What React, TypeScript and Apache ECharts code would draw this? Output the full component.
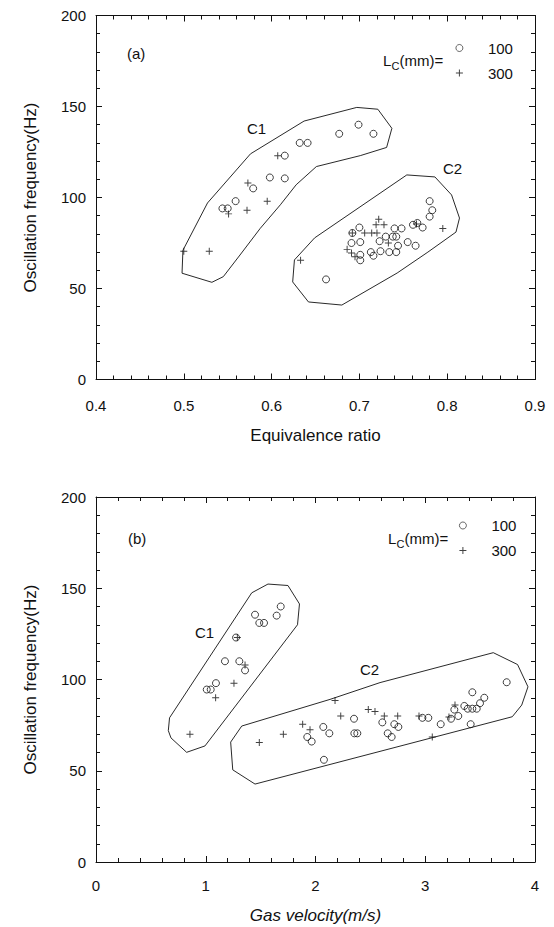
import React, { useEffect, useRef } from 'react';
import * as echarts from 'echarts';

// ---------- Data (a): oscillation frequency vs equivalence ratio ----------
const phiCircles: [number, number][] = [
  [0.544, 94], [0.55, 94], [0.559, 98], [0.579, 105], [0.598, 111], [0.615, 110.5],
  [0.615, 123], [0.632, 130], [0.641, 130], [0.677, 135], [0.699, 140], [0.716, 135],
  [0.662, 55], [0.78, 98], [0.783, 93], [0.78, 89.5], [0.772, 83.5], [0.766, 86],
  [0.761, 85], [0.764, 73.5], [0.755, 75.5], [0.748, 83], [0.74, 83], [0.744, 73.5],
  [0.742, 70], [0.734, 70], [0.742, 78.5], [0.738, 78.5], [0.73, 78.5], [0.723, 76],
  [0.724, 70.5], [0.716, 68], [0.713, 70], [0.701, 68.5], [0.701, 65.5], [0.701, 75.5],
  [0.691, 75], [0.692, 80.5], [0.7, 83.5],
];
const phiPluses: [number, number][] = [
  [0.5, 70.5], [0.529, 70.5], [0.551, 91], [0.572, 93], [0.573, 108], [0.595, 98], [0.607, 123],
  [0.633, 65.5], [0.686, 71.5], [0.691, 69.5], [0.695, 67.5], [0.692, 80.5], [0.706, 80.5],
  [0.714, 80.5], [0.72, 80.5], [0.722, 88], [0.719, 85], [0.728, 85], [0.733, 75],
  [0.795, 83], [0.765, 85.5],
];
const phiHullC1: [number, number][] = [
  [0.499, 71], [0.527, 97], [0.576, 124], [0.637, 142], [0.697, 149.5], [0.721, 148.5],
  [0.737, 138], [0.731, 127.5], [0.701, 123], [0.651, 117], [0.628, 107], [0.61, 96],
  [0.587, 83], [0.564, 68.4], [0.545, 56.5], [0.532, 53.4], [0.498, 58.4], [0.499, 71],
];
const phiHullC2: [number, number][] = [
  [0.626, 65.7], [0.649, 77.8], [0.754, 112.4], [0.786, 111.3], [0.805, 101.4], [0.814, 88.7],
  [0.81, 81], [0.778, 70], [0.743, 58.5], [0.68, 40.9], [0.642, 42.6], [0.624, 53.6], [0.626, 65.7],
];

// ---------- Data (b): oscillation frequency vs gas velocity ----------
const velCircles: [number, number][] = [
  [1.683, 140], [1.646, 135], [1.449, 135.5], [1.488, 131], [1.531, 131], [1.276, 123],
  [1.175, 110], [1.306, 110], [1.358, 105], [1.093, 98], [1.009, 94.5], [1.045, 94.5],
  [1.925, 68.5], [1.965, 66], [2.071, 74], [2.126, 70.5], [2.351, 78.5], [2.354, 70.5],
  [2.381, 70.5], [2.077, 56], [2.609, 76.5], [2.658, 70.5], [2.694, 68.5], [2.718, 75.5],
  [2.755, 74], [2.974, 79], [3.028, 79], [3.141, 75.5], [3.235, 78.5], [3.265, 83.5],
  [3.301, 80], [3.356, 85.5], [3.387, 84], [3.429, 84], [3.469, 84], [3.429, 93],
  [3.414, 75.5], [3.499, 87], [3.538, 90], [3.742, 98.5],
];
const velPluses: [number, number][] = [
  [1.288, 123], [1.358, 108], [1.257, 98], [1.09, 90], [0.856, 70],
  [1.488, 65.5], [1.707, 70], [1.883, 75.5], [1.95, 72.5], [2.178, 88.5], [2.23, 80],
  [2.481, 83.5], [2.542, 82.5], [2.627, 80], [2.749, 80], [2.943, 80], [3.064, 68.5],
  [3.271, 86], [3.216, 79.5],
];
const velHullC1: [number, number][] = [
  [0.67, 79], [1.419, 147.5], [1.567, 152.3], [1.749, 151.5], [1.854, 141.4], [1.836, 130],
  [0.993, 63.6], [0.826, 60.1], [0.683, 68], [0.659, 72], [0.67, 79],
];
const velHullC2: [number, number][] = [
  [1.328, 74.5], [2.132, 89.1], [2.588, 98.3], [3.62, 114.7], [3.841, 108.2], [3.936, 96],
  [3.879, 86], [3.793, 79.6], [1.449, 42.7], [1.246, 50.5], [1.227, 65.7], [1.328, 74.5],
];

// ---------- Tick labels ----------
const phiTickLabels = ['0.4', '0.5', '0.6', '0.7', '0.8', '0.9'];
const velTickLabels = ['0', '1', '2', '3', '4'];
const freqTickLabels = ['0', '50', '100', '150', '200'];
const seriesNames = ['100', '300'];

const FONT = '"Liberation Sans", Arial, Helvetica, sans-serif';
const INK = '#111';
const PLUS = 'path://M0,4.3H10V5.7H0Z M4.3,0H5.7V10H4.3Z';

function frameAxes(kind: 'x' | 'y', grid: number, min: number, max: number, interval: number,
  labels: string[] | null, position: string, name?: string, nameGap?: number, italic?: boolean) {
  return {
    type: 'value',
    gridIndex: grid,
    position,
    min, max, interval,
    axisLine: { show: true, onZero: false, lineStyle: { color: INK, width: 1 } },
    axisTick: { show: true, inside: true, length: 6, lineStyle: { color: INK, width: 1 } },
    minorTick: { show: true, splitNumber: 5, length: 4, lineStyle: { color: INK, width: 1 } },
    splitLine: { show: false },
    minorSplitLine: { show: false },
    axisLabel: labels ? {
      show: true,
      margin: kind === 'x' ? (grid === 0 ? 18 : 16) : 10,
      color: INK, fontSize: 15, fontFamily: FONT,
      formatter: (v: number) => labels[Math.round((v - min) / interval)] ?? '',
    } : { show: false },
    name: name ?? '',
    nameLocation: 'middle',
    nameGap: nameGap ?? 0,
    nameTextStyle: { color: INK, fontSize: 17, fontFamily: FONT, fontStyle: italic ? 'italic' : 'normal' },
  };
}

function scatter(name: string, data: [number, number][], idx: number, circle: boolean) {
  return {
    type: 'scatter', name, data, xAxisIndex: idx * 2, yAxisIndex: idx * 2,
    symbol: circle ? 'circle' : PLUS,
    symbolSize: 7,
    itemStyle: circle
      ? { color: 'rgba(0,0,0,0)', borderColor: INK, borderWidth: 1 }
      : { color: INK, borderWidth: 0 },
    z: 3,
  };
}

function hull(data: [number, number][], idx: number) {
  return {
    type: 'line', data, xAxisIndex: idx * 2, yAxisIndex: idx * 2,
    symbol: 'none', silent: true,
    lineStyle: { color: INK, width: 0.9 },
    z: 2,
  };
}

function txt(text: string, x: number, y: number, size = 15) {
  return {
    type: 'text', x, y, silent: true,
    style: { text, fill: INK, fontSize: size, fontFamily: FONT, align: 'left', verticalAlign: 'middle' },
  };
}

function lc(x: number, y: number) {
  return [txt('L', x, y, 15), txt('C', x + 8.6, y + 6, 11), txt('(mm)=', x + 16.5, y, 15)];
}

function legend(left: number, top: number) {
  return {
    data: [
      { name: seriesNames[0], icon: 'circle', itemStyle: { color: 'rgba(0,0,0,0)', borderColor: INK, borderWidth: 0.8 } },
      { name: seriesNames[1], icon: PLUS, itemStyle: { color: INK, borderWidth: 0 } },
    ],
    orient: 'vertical',
    left, top,
    itemWidth: 7, itemHeight: 7,
    itemGap: 10,
    padding: 0,
    selectedMode: false,
    textStyle: { color: INK, fontSize: 15, fontFamily: FONT, padding: [0, 0, 0, 20] },
  };
}

export default function App() {
  const ref = useRef<HTMLDivElement>(null);
  useEffect(() => {
    if (!ref.current) return;
    const chart = echarts.init(ref.current, null, { renderer: 'svg' });
    chart.setOption({
      animation: false,
      backgroundColor: '#fff',
      textStyle: { fontFamily: FONT },
      grid: [
        { left: 96, top: 15.5, width: 439, height: 364 },
        { left: 96, top: 497, width: 439, height: 365 },
      ],
      xAxis: [
        frameAxes('x', 0, 0.4, 0.9, 0.1, phiTickLabels, 'bottom', 'Equivalence ratio', 47),
        frameAxes('x', 0, 0.4, 0.9, 0.1, null, 'top'),
        frameAxes('x', 1, 0, 4, 1, velTickLabels, 'bottom', 'Gas velocity(m/s)', 45, true),
        frameAxes('x', 1, 0, 4, 1, null, 'top'),
      ],
      yAxis: [
        frameAxes('y', 0, 0, 200, 50, freqTickLabels, 'left', 'Oscillation frequency(Hz)', 57),
        frameAxes('y', 0, 0, 200, 50, null, 'right'),
        frameAxes('y', 1, 0, 200, 50, freqTickLabels, 'left', 'Oscillation frequency(Hz)', 57),
        frameAxes('y', 1, 0, 200, 50, null, 'right'),
      ],
      legend: [legend(455.5, 40.5), legend(459, 518)],
      series: [
        scatter('100', phiCircles, 0, true),
        scatter('300', phiPluses, 0, false),
        hull(phiHullC1, 0),
        hull(phiHullC2, 0),
        scatter('100', velCircles, 1, true),
        scatter('300', velPluses, 1, false),
        hull(velHullC1, 1),
        hull(velHullC2, 1),
      ],
      graphic: [
        txt('(a)', 127, 53),
        txt('C1', 247, 128),
        txt('C2', 443, 168),
        ...lc(383, 60),
        txt('(b)', 128, 538),
        txt('C1', 195, 632),
        txt('C2', 360, 669),
        ...lc(388, 538),
      ],
    });
    return () => chart.dispose();
  }, []);
  return <div ref={ref} style={{ position: 'fixed', left: 0, top: 0, width: 554, height: 927 }} />;
}
